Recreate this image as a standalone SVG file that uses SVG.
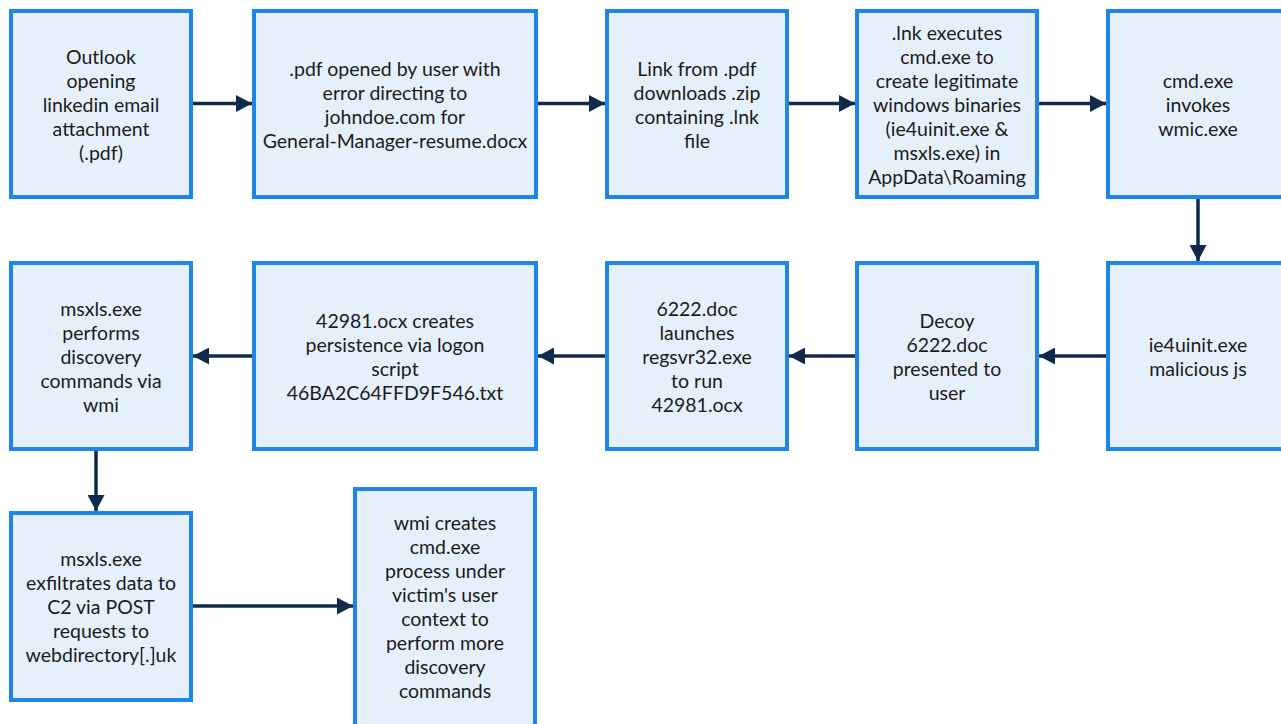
<svg xmlns="http://www.w3.org/2000/svg" width="1281" height="724" viewBox="0 0 1281 724">
<defs>
<style>
.box{fill:#e6f0fb;stroke:#1d86e8;stroke-width:4}
.t{font-family:Lato,"Liberation Sans",sans-serif;font-size:19.5px;fill:#1b1b1b;text-anchor:middle}
.c{stroke:#0f2a4a;stroke-width:3.5;fill:none;marker-end:url(#ah)}
</style>
<marker id="ah" viewBox="0 0 16 17" refX="16" refY="8.5" markerWidth="16" markerHeight="17" markerUnits="userSpaceOnUse" orient="auto">
<path d="M0,0 L16,8.5 L0,17 Z" fill="#0f2a4a"/>
</marker>
</defs>
<rect width="1281" height="724" fill="#ffffff"/>
<g id="connectors">
<line class="c" x1="193" y1="103.5" x2="252" y2="103.5"/>
<line class="c" x1="538" y1="103.5" x2="605" y2="103.5"/>
<line class="c" x1="789" y1="103.5" x2="855" y2="103.5"/>
<line class="c" x1="1039" y1="103.5" x2="1106" y2="103.5"/>
<line class="c" x1="1198" y1="199" x2="1198" y2="261"/>
<line class="c" x1="1106" y1="356" x2="1039" y2="356"/>
<line class="c" x1="855" y1="356" x2="789" y2="356"/>
<line class="c" x1="605" y1="356" x2="538" y2="356"/>
<line class="c" x1="252" y1="356" x2="193" y2="356"/>
<line class="c" x1="96" y1="451" x2="96" y2="511"/>
<line class="c" x1="193" y1="606" x2="353" y2="606"/>
</g>
<g id="n1">
<rect class="box" x="11" y="11" width="180" height="186"/>
<text class="t"><tspan x="101" y="63.5">Outlook</tspan><tspan x="101" y="87.5">opening</tspan><tspan x="101" y="111.5">linkedin email</tspan><tspan x="101" y="135.5">attachment</tspan><tspan x="101" y="159.5">(.pdf)</tspan></text>
</g>
<g id="n2">
<rect class="box" x="254" y="11" width="282" height="186"/>
<text class="t"><tspan x="395" y="75.5">.pdf opened by user with</tspan><tspan x="395" y="99.5">error directing to</tspan><tspan x="395" y="123.5">johndoe.com for</tspan><tspan x="395" y="147.5">General-Manager-resume.docx</tspan></text>
</g>
<g id="n3">
<rect class="box" x="607" y="11" width="180" height="186"/>
<text class="t"><tspan x="697" y="75.5">Link from .pdf</tspan><tspan x="697" y="99.5">downloads .zip</tspan><tspan x="697" y="123.5">containing .lnk</tspan><tspan x="697" y="147.5">file</tspan></text>
</g>
<g id="n4">
<rect class="box" x="857" y="11" width="180" height="186"/>
<text class="t"><tspan x="947" y="39.5">.lnk executes</tspan><tspan x="947" y="63.5">cmd.exe to</tspan><tspan x="947" y="87.5">create legitimate</tspan><tspan x="947" y="111.5">windows binaries</tspan><tspan x="947" y="135.5">(ie4uinit.exe &amp;</tspan><tspan x="947" y="159.5">msxls.exe) in</tspan><tspan x="947" y="183.5">AppData\Roaming</tspan></text>
</g>
<g id="n5">
<rect class="box" x="1108" y="11" width="180" height="186"/>
<text class="t"><tspan x="1198" y="87.5">cmd.exe</tspan><tspan x="1198" y="111.5">invokes</tspan><tspan x="1198" y="135.5">wmic.exe</tspan></text>
</g>
<g id="n6">
<rect class="box" x="1108" y="263" width="180" height="186"/>
<text class="t"><tspan x="1198" y="351.5">ie4uinit.exe</tspan><tspan x="1198" y="375.5">malicious js</tspan></text>
</g>
<g id="n7">
<rect class="box" x="857" y="263" width="180" height="186"/>
<text class="t"><tspan x="947" y="327.5">Decoy</tspan><tspan x="947" y="351.5">6222.doc</tspan><tspan x="947" y="375.5">presented to</tspan><tspan x="947" y="399.5">user</tspan></text>
</g>
<g id="n8">
<rect class="box" x="607" y="263" width="180" height="186"/>
<text class="t"><tspan x="697" y="315.5">6222.doc</tspan><tspan x="697" y="339.5">launches</tspan><tspan x="697" y="363.5">regsvr32.exe</tspan><tspan x="697" y="387.5">to run</tspan><tspan x="697" y="411.5">42981.ocx</tspan></text>
</g>
<g id="n9">
<rect class="box" x="254" y="263" width="282" height="186"/>
<text class="t"><tspan x="395" y="327.5">42981.ocx creates</tspan><tspan x="395" y="351.5">persistence via logon</tspan><tspan x="395" y="375.5">script</tspan><tspan x="395" y="399.5">46BA2C64FFD9F546.txt</tspan></text>
</g>
<g id="n10">
<rect class="box" x="11" y="263" width="180" height="186"/>
<text class="t"><tspan x="101" y="315.5">msxls.exe</tspan><tspan x="101" y="339.5">performs</tspan><tspan x="101" y="363.5">discovery</tspan><tspan x="101" y="387.5">commands via</tspan><tspan x="101" y="411.5">wmi</tspan></text>
</g>
<g id="n11">
<rect class="box" x="11" y="513" width="180" height="187"/>
<text class="t"><tspan x="101" y="565.5">msxls.exe</tspan><tspan x="101" y="589.5">exfiltrates data to</tspan><tspan x="101" y="613.5">C2 via POST</tspan><tspan x="101" y="637.5">requests to</tspan><tspan x="101" y="661.5">webdirectory[.]uk</tspan></text>
</g>
<g id="n12">
<rect class="box" x="355" y="489" width="180" height="250"/>
<text class="t"><tspan x="445" y="529.5">wmi creates</tspan><tspan x="445" y="553.5">cmd.exe</tspan><tspan x="445" y="577.5">process under</tspan><tspan x="445" y="601.5">victim's user</tspan><tspan x="445" y="625.5">context to</tspan><tspan x="445" y="649.5">perform more</tspan><tspan x="445" y="673.5">discovery</tspan><tspan x="445" y="697.5">commands</tspan></text>
</g>
</svg>
